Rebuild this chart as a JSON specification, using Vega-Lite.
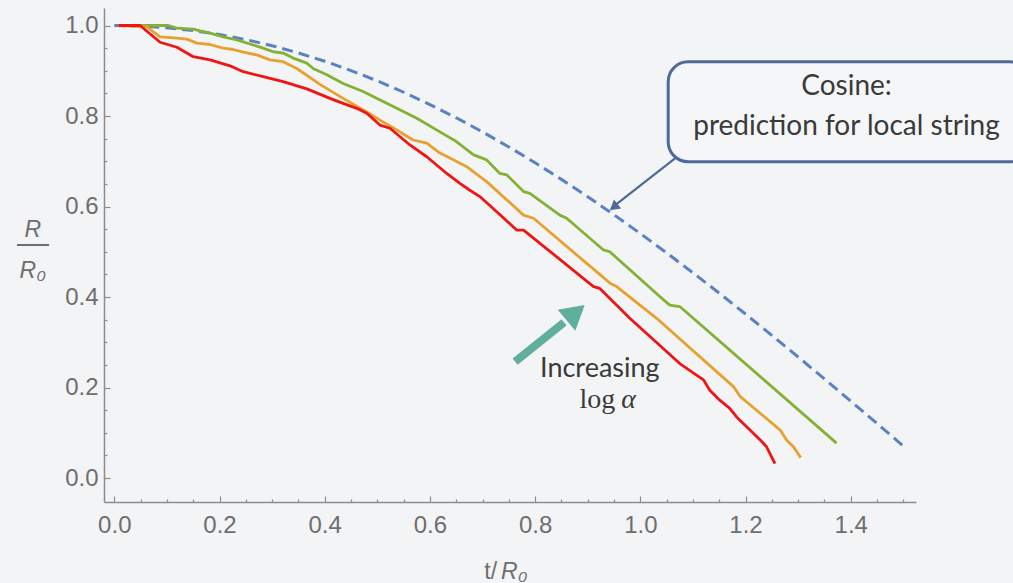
{
  "$schema": "https://vega.github.io/schema/vega-lite/v6.json",
  "width": 812,
  "height": 494,
  "autosize": {"type": "none"},
  "padding": {"left": 104, "top": 8, "right": 97, "bottom": 81},
  "background": "#f3f4f6",
  "config": {"view": {"stroke": null}},
  "datasets": {
    "cos": [
      {"x": 0, "y": 1}, {"x": 0.05, "y": 0.99875}, {"x": 0.1, "y": 0.995}, {"x": 0.15, "y": 0.98877},
      {"x": 0.2, "y": 0.98007}, {"x": 0.25, "y": 0.96891}, {"x": 0.3, "y": 0.95534}, {"x": 0.35, "y": 0.93937},
      {"x": 0.4, "y": 0.92106}, {"x": 0.45, "y": 0.90045}, {"x": 0.5, "y": 0.87758}, {"x": 0.55, "y": 0.85252},
      {"x": 0.6, "y": 0.82534}, {"x": 0.65, "y": 0.79608}, {"x": 0.7, "y": 0.76484}, {"x": 0.75, "y": 0.73169},
      {"x": 0.8, "y": 0.69671}, {"x": 0.85, "y": 0.65998}, {"x": 0.9, "y": 0.62161}, {"x": 0.95, "y": 0.58168},
      {"x": 1.0, "y": 0.5403}, {"x": 1.05, "y": 0.49757}, {"x": 1.1, "y": 0.4536}, {"x": 1.15, "y": 0.40849},
      {"x": 1.2, "y": 0.36236}, {"x": 1.25, "y": 0.31532}, {"x": 1.3, "y": 0.2675}, {"x": 1.35, "y": 0.21901},
      {"x": 1.4, "y": 0.16997}, {"x": 1.45, "y": 0.1205}, {"x": 1.5, "y": 0.07074}
    ],
    "curves": [
      {"s": "high", "x": 0.008, "y": 1.0}, {"s": "high", "x": 0.103, "y": 1.0}, {"s": "high", "x": 0.119, "y": 0.994},
      {"s": "high", "x": 0.15, "y": 0.992}, {"s": "high", "x": 0.163, "y": 0.988}, {"s": "high", "x": 0.182, "y": 0.983},
      {"s": "high", "x": 0.207, "y": 0.975}, {"s": "high", "x": 0.233, "y": 0.968}, {"s": "high", "x": 0.245, "y": 0.964},
      {"s": "high", "x": 0.264, "y": 0.957}, {"s": "high", "x": 0.283, "y": 0.95}, {"s": "high", "x": 0.302, "y": 0.942},
      {"s": "high", "x": 0.321, "y": 0.939}, {"s": "high", "x": 0.34, "y": 0.928}, {"s": "high", "x": 0.366, "y": 0.917},
      {"s": "high", "x": 0.378, "y": 0.905}, {"s": "high", "x": 0.404, "y": 0.891}, {"s": "high", "x": 0.435, "y": 0.872},
      {"s": "high", "x": 0.473, "y": 0.854}, {"s": "high", "x": 0.492, "y": 0.843}, {"s": "high", "x": 0.537, "y": 0.817},
      {"s": "high", "x": 0.575, "y": 0.795}, {"s": "high", "x": 0.619, "y": 0.765}, {"s": "high", "x": 0.651, "y": 0.743},
      {"s": "high", "x": 0.683, "y": 0.714}, {"s": "high", "x": 0.708, "y": 0.703}, {"s": "high", "x": 0.733, "y": 0.673},
      {"s": "high", "x": 0.746, "y": 0.67}, {"s": "high", "x": 0.778, "y": 0.633}, {"s": "high", "x": 0.79, "y": 0.629},
      {"s": "high", "x": 0.847, "y": 0.581}, {"s": "high", "x": 0.86, "y": 0.574}, {"s": "high", "x": 0.93, "y": 0.504},
      {"s": "high", "x": 0.942, "y": 0.5}, {"s": "high", "x": 1.037, "y": 0.401}, {"s": "high", "x": 1.056, "y": 0.382},
      {"s": "high", "x": 1.075, "y": 0.379}, {"s": "high", "x": 1.373, "y": 0.077},

      {"s": "mid", "x": 0.008, "y": 1.0}, {"s": "mid", "x": 0.062, "y": 0.997}, {"s": "mid", "x": 0.087, "y": 0.975},
      {"s": "mid", "x": 0.119, "y": 0.972}, {"s": "mid", "x": 0.138, "y": 0.97}, {"s": "mid", "x": 0.157, "y": 0.961},
      {"s": "mid", "x": 0.182, "y": 0.958}, {"s": "mid", "x": 0.207, "y": 0.95}, {"s": "mid", "x": 0.226, "y": 0.947},
      {"s": "mid", "x": 0.245, "y": 0.941}, {"s": "mid", "x": 0.271, "y": 0.935}, {"s": "mid", "x": 0.296, "y": 0.924},
      {"s": "mid", "x": 0.321, "y": 0.92}, {"s": "mid", "x": 0.347, "y": 0.905}, {"s": "mid", "x": 0.391, "y": 0.87},
      {"s": "mid", "x": 0.435, "y": 0.839}, {"s": "mid", "x": 0.48, "y": 0.809}, {"s": "mid", "x": 0.505, "y": 0.791},
      {"s": "mid", "x": 0.537, "y": 0.769}, {"s": "mid", "x": 0.568, "y": 0.747}, {"s": "mid", "x": 0.594, "y": 0.74},
      {"s": "mid", "x": 0.619, "y": 0.718}, {"s": "mid", "x": 0.638, "y": 0.707}, {"s": "mid", "x": 0.67, "y": 0.688},
      {"s": "mid", "x": 0.695, "y": 0.666}, {"s": "mid", "x": 0.708, "y": 0.655}, {"s": "mid", "x": 0.778, "y": 0.581},
      {"s": "mid", "x": 0.797, "y": 0.574}, {"s": "mid", "x": 0.943, "y": 0.43}, {"s": "mid", "x": 0.955, "y": 0.423},
      {"s": "mid", "x": 1.031, "y": 0.353}, {"s": "mid", "x": 1.177, "y": 0.202}, {"s": "mid", "x": 1.19, "y": 0.18},
      {"s": "mid", "x": 1.266, "y": 0.106}, {"s": "mid", "x": 1.278, "y": 0.084}, {"s": "mid", "x": 1.291, "y": 0.069},
      {"s": "mid", "x": 1.305, "y": 0.045},

      {"s": "low", "x": 0.008, "y": 1.0}, {"s": "low", "x": 0.049, "y": 1.0}, {"s": "low", "x": 0.087, "y": 0.963},
      {"s": "low", "x": 0.119, "y": 0.952}, {"s": "low", "x": 0.15, "y": 0.931}, {"s": "low", "x": 0.182, "y": 0.924},
      {"s": "low", "x": 0.22, "y": 0.911}, {"s": "low", "x": 0.245, "y": 0.898}, {"s": "low", "x": 0.283, "y": 0.887},
      {"s": "low", "x": 0.321, "y": 0.876}, {"s": "low", "x": 0.366, "y": 0.86}, {"s": "low", "x": 0.41, "y": 0.839},
      {"s": "low", "x": 0.435, "y": 0.828}, {"s": "low", "x": 0.461, "y": 0.817}, {"s": "low", "x": 0.48, "y": 0.806},
      {"s": "low", "x": 0.505, "y": 0.78}, {"s": "low", "x": 0.524, "y": 0.773}, {"s": "low", "x": 0.562, "y": 0.736},
      {"s": "low", "x": 0.594, "y": 0.71}, {"s": "low", "x": 0.632, "y": 0.673}, {"s": "low", "x": 0.657, "y": 0.651},
      {"s": "low", "x": 0.676, "y": 0.636}, {"s": "low", "x": 0.695, "y": 0.622}, {"s": "low", "x": 0.765, "y": 0.548},
      {"s": "low", "x": 0.778, "y": 0.548}, {"s": "low", "x": 0.911, "y": 0.423}, {"s": "low", "x": 0.923, "y": 0.419},
      {"s": "low", "x": 0.98, "y": 0.353}, {"s": "low", "x": 1.075, "y": 0.253}, {"s": "low", "x": 1.12, "y": 0.217},
      {"s": "low", "x": 1.132, "y": 0.194}, {"s": "low", "x": 1.151, "y": 0.172}, {"s": "low", "x": 1.17, "y": 0.154},
      {"s": "low", "x": 1.183, "y": 0.135}, {"s": "low", "x": 1.228, "y": 0.084}, {"s": "low", "x": 1.24, "y": 0.069},
      {"s": "low", "x": 1.256, "y": 0.032}
    ]
  },
  "resolve": {"axis": {"x": "independent", "y": "independent"}},
  "layer": [
    {
      "data": {"name": "cos"},
      "mark": {"type": "line", "color": "#5A82C3", "strokeWidth": 3, "strokeDash": [11, 6]},
      "encoding": {
        "x": {"field": "x", "type": "quantitative",
          "scale": {"domain": [-0.0196, 1.5241], "nice": false, "zero": false},
          "axis": {"orient": "bottom", "values": [0, 0.2, 0.4, 0.6, 0.8, 1, 1.2, 1.4], "format": ".1f", "title": null, "grid": false,
            "domainColor": "#8c8c8c", "domainWidth": 1.5, "tickColor": "#8c8c8c", "tickWidth": 1.2, "tickSize": -6,
            "labelFont": "Arial", "labelFontSize": 24, "labelColor": "#6e6e6e", "labelPadding": 17,
            "labelFlush": false, "labelOverlap": false}},
        "y": {"field": "y", "type": "quantitative",
          "scale": {"domain": [-0.053, 1.0387], "nice": false, "zero": false},
          "axis": {"orient": "left", "values": [0, 0.2, 0.4, 0.6, 0.8, 1], "format": ".1f", "title": null, "grid": false,
            "domainColor": "#8c8c8c", "domainWidth": 1.5, "tickColor": "#8c8c8c", "tickWidth": 1.2, "tickSize": -6,
            "labelFont": "Arial", "labelFontSize": 24, "labelColor": "#6e6e6e", "labelPadding": 12,
            "labelFlush": false, "labelOverlap": false}}
      }
    },
    {
      "data": {"name": "cos"},
      "mark": {"type": "point", "opacity": 0},
      "encoding": {
        "x": {"field": "x", "type": "quantitative",
          "scale": {"domain": [-0.0196, 1.5241], "nice": false, "zero": false},
          "axis": {"orient": "bottom", "values": [0.05, 0.1, 0.15, 0.25, 0.3, 0.35, 0.45, 0.5, 0.55, 0.65, 0.7, 0.75, 0.85, 0.9, 0.95, 1.05, 1.1, 1.15, 1.25, 1.3, 1.35, 1.45, 1.5],
            "labels": false, "domain": false, "title": null, "grid": false, "tickColor": "#8c8c8c", "tickWidth": 1.2, "tickSize": -3}},
        "y": {"field": "y", "type": "quantitative",
          "scale": {"domain": [-0.053, 1.0387], "nice": false, "zero": false},
          "axis": {"orient": "left", "values": [0.05, 0.1, 0.15, 0.25, 0.3, 0.35, 0.45, 0.5, 0.55, 0.65, 0.7, 0.75, 0.85, 0.9, 0.95],
            "labels": false, "domain": false, "title": null, "grid": false, "tickColor": "#8c8c8c", "tickWidth": 1.2, "tickSize": -3}}
      }
    },
    {
      "data": {"name": "curves"},
      "mark": {"type": "line", "strokeWidth": 2.8, "strokeJoin": "round"},
      "encoding": {
        "x": {"field": "x", "type": "quantitative", "scale": {"domain": [-0.0196, 1.5241], "nice": false, "zero": false}, "axis": null},
        "y": {"field": "y", "type": "quantitative", "scale": {"domain": [-0.053, 1.0387], "nice": false, "zero": false}, "axis": null},
        "color": {"field": "s", "type": "nominal", "scale": {"domain": ["high", "mid", "low"], "range": ["#86B034", "#E8A12E", "#F01414"]}, "legend": null},
        "order": {"field": "x", "type": "quantitative"}
      }
    },
    {
      "data": {"values": [{"x": 1.053, "x2": 1.74, "y": 0.92, "y2": 0.699}]},
      "mark": {"type": "rect", "fill": "#f5f6f8", "stroke": "#4D6A9A", "strokeWidth": 3, "cornerRadius": 20},
      "encoding": {
        "x": {"field": "x", "type": "quantitative", "scale": {"domain": [-0.0196, 1.5241], "nice": false, "zero": false}, "axis": null},
        "x2": {"field": "x2"},
        "y": {"field": "y", "type": "quantitative", "scale": {"domain": [-0.053, 1.0387], "nice": false, "zero": false}, "axis": null},
        "y2": {"field": "y2"}
      }
    },
    {
      "data": {"values": [{"x": 1.392, "y": 0.846, "t": "Cosine:"}, {"x": 1.392, "y": 0.758, "t": "prediction for local string"}]},
      "mark": {"type": "text", "font": "Lato", "fontSize": 28, "color": "#3a3a3a", "align": "center", "baseline": "alphabetic"},
      "encoding": {
        "x": {"field": "x", "type": "quantitative", "scale": {"domain": [-0.0196, 1.5241], "nice": false, "zero": false}, "axis": null},
        "y": {"field": "y", "type": "quantitative", "scale": {"domain": [-0.053, 1.0387], "nice": false, "zero": false}, "axis": null},
        "text": {"field": "t"}
      }
    },
    {
      "data": {"values": [{"x": 1.066, "y": 0.7065, "x2": 0.948, "y2": 0.599}]},
      "mark": {"type": "rule", "color": "#4D6A9A", "strokeWidth": 2.2},
      "encoding": {
        "x": {"field": "x", "type": "quantitative", "scale": {"domain": [-0.0196, 1.5241], "nice": false, "zero": false}, "axis": null},
        "x2": {"field": "x2"},
        "y": {"field": "y", "type": "quantitative", "scale": {"domain": [-0.053, 1.0387], "nice": false, "zero": false}, "axis": null},
        "y2": {"field": "y2"}
      }
    },
    {
      "data": {"values": [{"x": 0.9494, "y": 0.5987}]},
      "mark": {"type": "point", "shape": "triangle-up", "filled": true, "color": "#4D6A9A", "opacity": 1, "size": 130, "angle": 231},
      "encoding": {
        "x": {"field": "x", "type": "quantitative", "scale": {"domain": [-0.0196, 1.5241], "nice": false, "zero": false}, "axis": null},
        "y": {"field": "y", "type": "quantitative", "scale": {"domain": [-0.053, 1.0387], "nice": false, "zero": false}, "axis": null}
      }
    },
    {
      "data": {"values": [{"x": 0.762, "y": 0.257, "x2": 0.855, "y2": 0.344}]},
      "mark": {"type": "rule", "color": "#5FAE9E", "strokeWidth": 8},
      "encoding": {
        "x": {"field": "x", "type": "quantitative", "scale": {"domain": [-0.0196, 1.5241], "nice": false, "zero": false}, "axis": null},
        "x2": {"field": "x2"},
        "y": {"field": "y", "type": "quantitative", "scale": {"domain": [-0.053, 1.0387], "nice": false, "zero": false}, "axis": null},
        "y2": {"field": "y2"}
      }
    },
    {
      "data": {"values": [{"x": 0.877, "y": 0.3655}]},
      "mark": {"type": "point", "shape": "triangle-up", "filled": true, "color": "#5FAE9E", "opacity": 1, "size": 750, "angle": 50},
      "encoding": {
        "x": {"field": "x", "type": "quantitative", "scale": {"domain": [-0.0196, 1.5241], "nice": false, "zero": false}, "axis": null},
        "y": {"field": "y", "type": "quantitative", "scale": {"domain": [-0.053, 1.0387], "nice": false, "zero": false}, "axis": null}
      }
    },
    {
      "data": {"values": [{"x": 0.923, "y": 0.2225, "t": "Increasing"}]},
      "mark": {"type": "text", "font": "Lato", "fontSize": 27, "color": "#3a3a3a", "align": "center", "baseline": "alphabetic"},
      "encoding": {
        "x": {"field": "x", "type": "quantitative", "scale": {"domain": [-0.0196, 1.5241], "nice": false, "zero": false}, "axis": null},
        "y": {"field": "y", "type": "quantitative", "scale": {"domain": [-0.053, 1.0387], "nice": false, "zero": false}, "axis": null},
        "text": {"field": "t"}
      }
    },
    {
      "data": {"values": [{"x": 0.9525, "y": 0.1547, "t": "log"}]},
      "mark": {"type": "text", "font": "Liberation Serif", "fontSize": 28, "color": "#3a3a3a", "align": "right", "baseline": "alphabetic"},
      "encoding": {
        "x": {"field": "x", "type": "quantitative", "scale": {"domain": [-0.0196, 1.5241], "nice": false, "zero": false}, "axis": null},
        "y": {"field": "y", "type": "quantitative", "scale": {"domain": [-0.053, 1.0387], "nice": false, "zero": false}, "axis": null},
        "text": {"field": "t"}
      }
    },
    {
      "data": {"values": [{"x": 0.9636, "y": 0.1547, "t": "α"}]},
      "mark": {"type": "text", "font": "Liberation Serif", "fontStyle": "italic", "fontSize": 28, "color": "#3a3a3a", "align": "left", "baseline": "alphabetic"},
      "encoding": {
        "x": {"field": "x", "type": "quantitative", "scale": {"domain": [-0.0196, 1.5241], "nice": false, "zero": false}, "axis": null},
        "y": {"field": "y", "type": "quantitative", "scale": {"domain": [-0.053, 1.0387], "nice": false, "zero": false}, "axis": null},
        "text": {"field": "t"}
      }
    },
    {
      "data": {"values": [{"x": -0.155, "y": 0.533, "t": "R"}, {"x": -0.155, "y": 0.442, "t": "R₀"}]},
      "mark": {"type": "text", "font": "Arial", "fontStyle": "italic", "fontSize": 23, "color": "#6e6e6e", "align": "center", "baseline": "alphabetic"},
      "encoding": {
        "x": {"field": "x", "type": "quantitative", "scale": {"domain": [-0.0196, 1.5241], "nice": false, "zero": false}, "axis": null},
        "y": {"field": "y", "type": "quantitative", "scale": {"domain": [-0.053, 1.0387], "nice": false, "zero": false}, "axis": null},
        "text": {"field": "t"}
      }
    },
    {
      "data": {"values": [{"x": 0.7352, "y": -0.2235, "t": "R₀"}]},
      "mark": {"type": "text", "font": "Arial", "fontStyle": "italic", "fontSize": 23, "color": "#6e6e6e", "align": "left", "baseline": "alphabetic"},
      "encoding": {
        "x": {"field": "x", "type": "quantitative", "scale": {"domain": [-0.0196, 1.5241], "nice": false, "zero": false}, "axis": null},
        "y": {"field": "y", "type": "quantitative", "scale": {"domain": [-0.053, 1.0387], "nice": false, "zero": false}, "axis": null},
        "text": {"field": "t"}
      }
    },
    {
      "data": {"values": [{"x": 0.7276, "y": -0.2235, "t": "t/"}]},
      "mark": {"type": "text", "font": "Arial", "fontSize": 23, "color": "#6e6e6e", "align": "right", "baseline": "alphabetic"},
      "encoding": {
        "x": {"field": "x", "type": "quantitative", "scale": {"domain": [-0.0196, 1.5241], "nice": false, "zero": false}, "axis": null},
        "y": {"field": "y", "type": "quantitative", "scale": {"domain": [-0.053, 1.0387], "nice": false, "zero": false}, "axis": null},
        "text": {"field": "t"}
      }
    },
    {
      "data": {"values": [{"x": -0.185, "y": 0.515, "x2": -0.124}]},
      "mark": {"type": "rule", "color": "#6e6e6e", "strokeWidth": 2},
      "encoding": {
        "x": {"field": "x", "type": "quantitative", "scale": {"domain": [-0.0196, 1.5241], "nice": false, "zero": false}, "axis": null},
        "x2": {"field": "x2"},
        "y": {"field": "y", "type": "quantitative", "scale": {"domain": [-0.053, 1.0387], "nice": false, "zero": false}, "axis": null}
      }
    }
  ]
}
